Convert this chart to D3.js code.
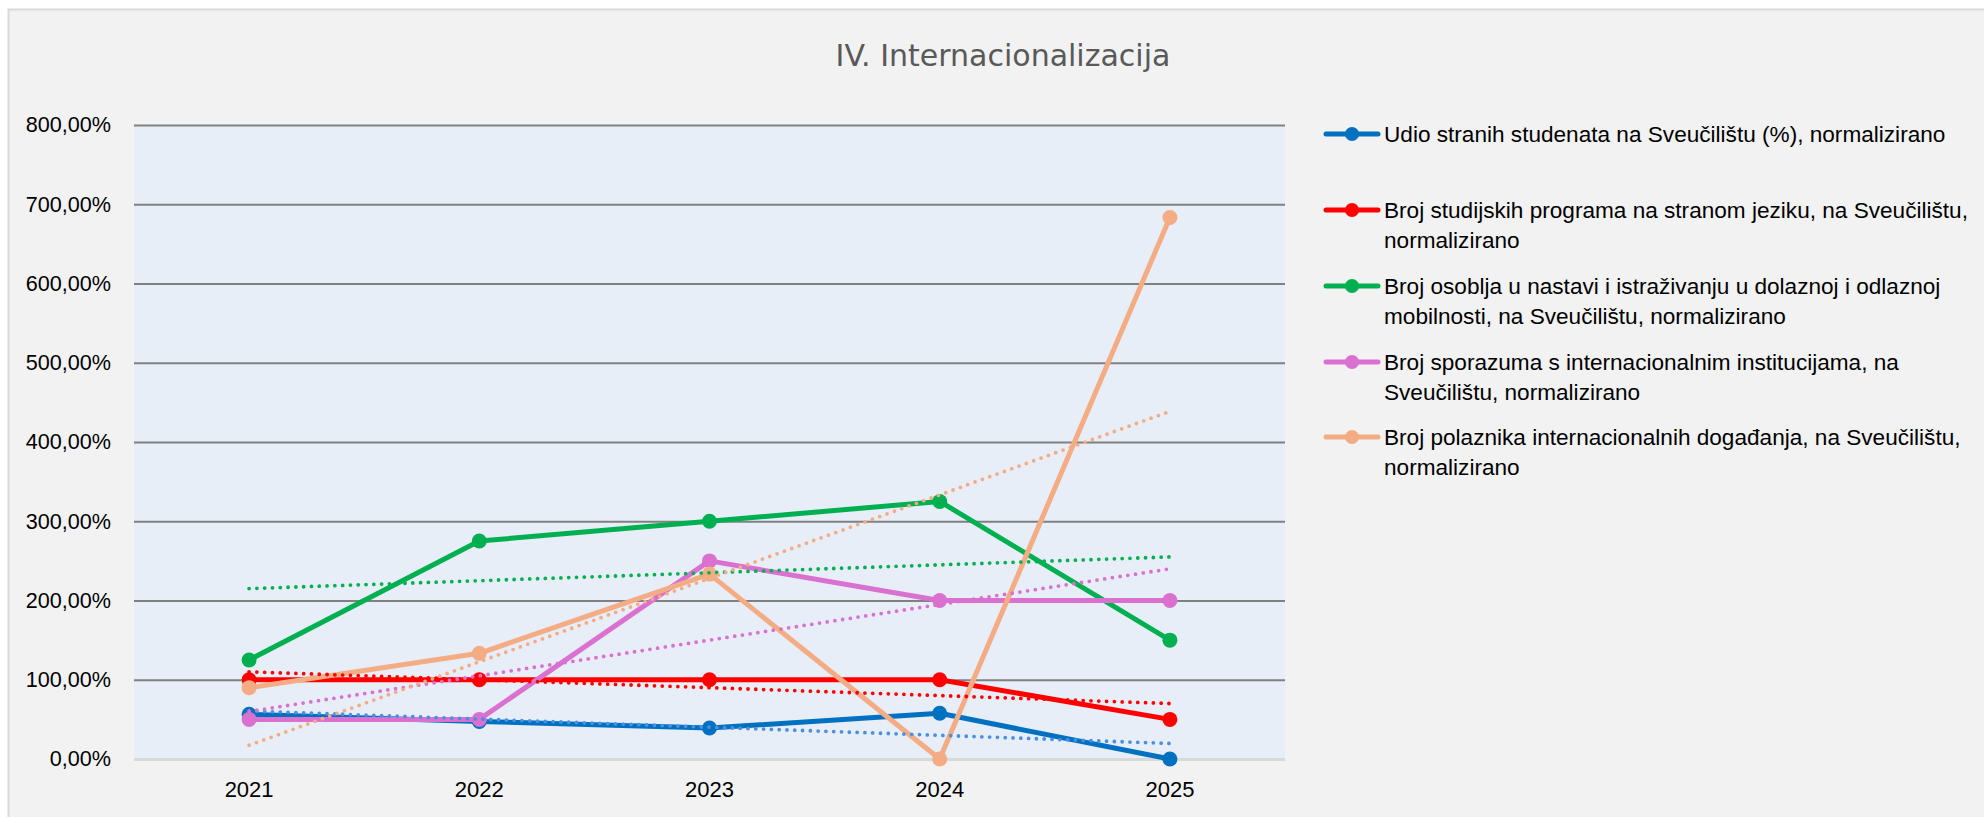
<!DOCTYPE html>
<html>
<head>
<meta charset="utf-8">
<script src="https://cdn.jsdelivr.net/npm/d3@7"></script>
<style>
html,body{margin:0;padding:0;background:#ffffff;}
svg{display:block;}
</style>
</head>
<body>
<svg id="chart" width="1984" height="817"></svg>
<script>
// ---- Data ----
const title = "IV. Internacionalizacija";
const years = ["2021", "2022", "2023", "2024", "2025"];
const yTicks = [0, 100, 200, 300, 400, 500, 600, 700, 800];
const seriesNames = [
  "Udio stranih studenata na Sveučilištu (%), normalizirano",
  "Broj studijskih programa na stranom jeziku, na Sveučilištu,\nnormalizirano",
  "Broj osoblja u nastavi i istraživanju u dolaznoj i odlaznoj\nmobilnosti, na Sveučilištu, normalizirano",
  "Broj sporazuma s internacionalnim institucijama, na\nSveučilištu, normalizirano",
  "Broj polaznika internacionalnih događanja, na Sveučilištu,\nnormalizirano"
];
const udioStranih = [56.4, 47.4, 39.1, 57.7, 0];
const studijskiProgrami = [100, 100, 100, 100, 50];
const osobljeMobilnost = [125, 275, 300, 325, 150];
const sporazumi = [50, 50, 250, 200, 200];
const polaznici = [90, 133.33, 233.33, 0, 683.33];
const seriesColors = ["#0070c0", "#ff0000", "#00b050", "#da70d0", "#f4ac84"];
const trendColors = ["#4a90e2", "#ff0000", "#00b050", "#da70d0", "#f4ac84"];

const allSeries = [udioStranih, studijskiProgrami, osobljeMobilnost, sporazumi, polaznici];

// ---- Layout ----
const svg = d3.select("#chart");
const plot = {left: 134, right: 1285, top: 125, bottom: 759};
const font = "'Liberation Sans', Arial, sans-serif";

// chart area background
svg.append("rect").attr("x", 8.5).attr("y", 9.5).attr("width", 2100).attr("height", 900)
  .attr("fill", "#f2f2f2").attr("stroke", "#d9d9d9").attr("stroke-width", 2);

const x = d3.scaleBand().domain(years).range([plot.left, plot.right]).paddingInner(0).paddingOuter(0);
const y = d3.scaleLinear().domain([0, 800]).range([plot.bottom, plot.top]);
const cx = d => x(d) + x.bandwidth() / 2;

// plot area
svg.append("rect").attr("x", plot.left).attr("y", plot.top)
  .attr("width", plot.right - plot.left).attr("height", plot.bottom - plot.top)
  .attr("fill", "#e7eef8");

// title
svg.append("text").attr("x", 1003).attr("y", 66).attr("text-anchor", "middle")
  .attr("font-family", "'DejaVu Sans', sans-serif").attr("font-size", 30)
  .attr("fill", "#595959").text(title);

// y axis (gridlines + labels)
const locale = d3.formatLocale({decimal: ",", thousands: ".", grouping: [3], currency: ["", " €"]});
const fmt = locale.format(".2f");
const yAxis = d3.axisLeft(y).tickValues(yTicks).tickSize(-(plot.right - plot.left))
  .tickPadding(23).tickFormat(d => fmt(d) + "%");
const gy = svg.append("g").attr("transform", `translate(${plot.left},0)`).call(yAxis);
gy.select(".domain").remove();
gy.selectAll(".tick line").attr("stroke", d => d === 0 ? "#d9d9d9" : "#808080")
  .attr("stroke-width", d => d === 0 ? 3 : 2);
gy.selectAll(".tick text").attr("font-family", font).attr("font-size", 21.6).attr("fill", "#000");

// x axis labels
const xAxis = d3.axisBottom(x).tickSize(0).tickPadding(22);
const gx = svg.append("g").attr("transform", `translate(0,${plot.bottom})`).call(xAxis);
gx.select(".domain").remove();
gx.selectAll(".tick text").attr("font-family", font).attr("font-size", 22).attr("fill", "#000");

// series
const line = d3.line().x((d, i) => cx(years[i])).y(d => y(d));
allSeries.forEach((vals, si) => {
  const g = svg.append("g");
  g.append("path").datum(vals).attr("d", line).attr("fill", "none")
    .attr("stroke", seriesColors[si]).attr("stroke-width", 5).attr("stroke-linejoin", "round");
  g.selectAll("circle").data(vals).enter().append("circle")
    .attr("cx", (d, i) => cx(years[i])).attr("cy", d => y(d)).attr("r", 7.5)
    .attr("fill", seriesColors[si]);
});

// linear trendlines (least squares, as in the original chart)
allSeries.forEach((vals, si) => {
  const n = vals.length;
  const xs = vals.map((d, i) => i + 1);
  const mx = d3.mean(xs), my = d3.mean(vals);
  const slope = d3.sum(xs, (xi, i) => (xi - mx) * (vals[i] - my)) / d3.sum(xs, xi => (xi - mx) ** 2);
  const icpt = my - slope * mx;
  const tv = [icpt + slope * 1, icpt + slope * n];
  svg.append("line")
    .attr("x1", cx(years[0])).attr("y1", y(tv[0]))
    .attr("x2", cx(years[n - 1])).attr("y2", y(tv[1]))
    .attr("stroke", trendColors[si]).attr("stroke-width", 3.8)
    .attr("stroke-linecap", "round").attr("stroke-dasharray", "0 7.8");
});

// legend
const legendTop = [134, 210, 286, 362, 437];
const lg = svg.append("g");
seriesNames.forEach((name, i) => {
  const yy = legendTop[i];
  lg.append("line").attr("x1", 1326).attr("x2", 1378).attr("y1", yy).attr("y2", yy)
    .attr("stroke", seriesColors[i]).attr("stroke-width", 5).attr("stroke-linecap", "round");
  lg.append("circle").attr("cx", 1352).attr("cy", yy).attr("r", 7).attr("fill", seriesColors[i]);
  const t = lg.append("text").attr("x", 1384).attr("y", yy)
    .attr("font-family", font).attr("font-size", 22.6).attr("fill", "#000");
  name.split("\n").forEach((ln, j) => {
    t.append("tspan").attr("x", 1384).attr("dy", j === 0 ? "0.35em" : 30.5).text(ln);
  });
});
</script>
</body>
</html>
